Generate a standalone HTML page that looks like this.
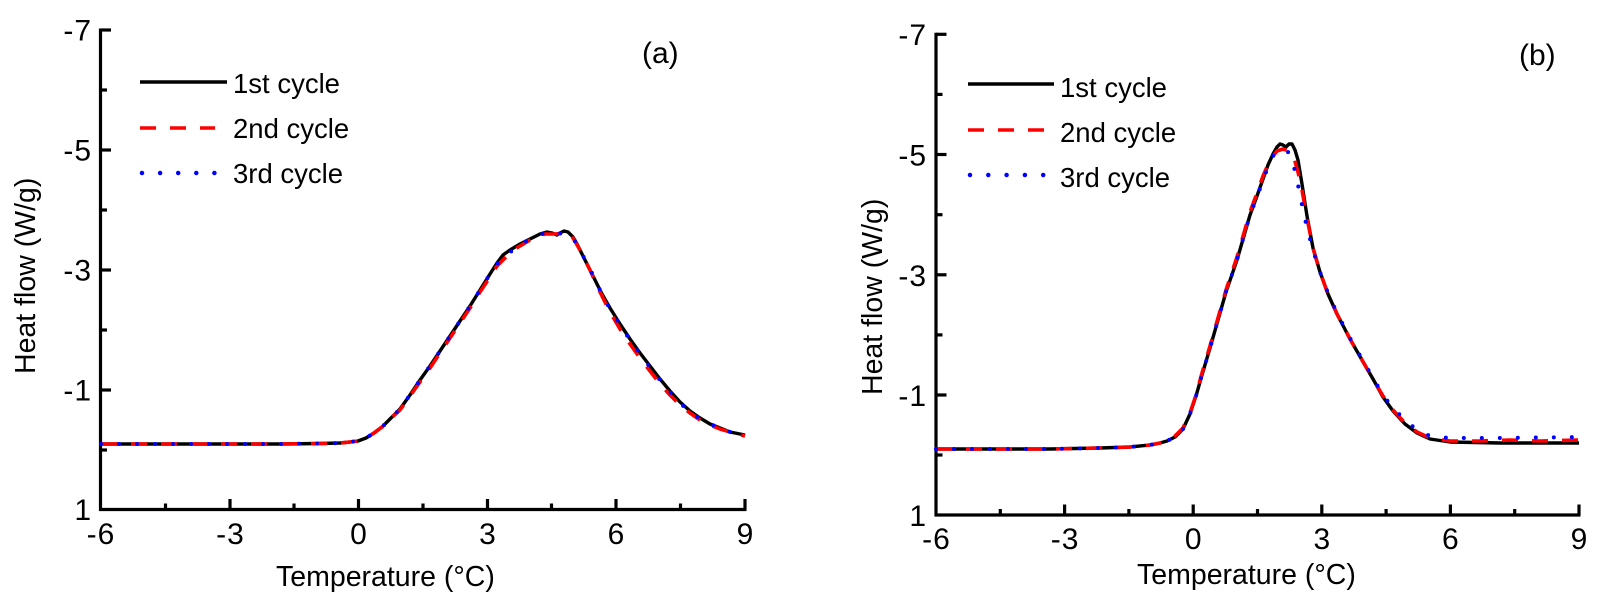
<!DOCTYPE html>
<html>
<head>
<meta charset="utf-8">
<style>
html,body{margin:0;padding:0;background:#fff;}
svg{display:block;}
text{font-family:"Liberation Sans",Arial,sans-serif;fill:#000;}
</style>
</head>
<body>
<svg width="1605" height="603" viewBox="0 0 1605 603" xmlns="http://www.w3.org/2000/svg">
<rect width="1605" height="603" fill="#fff"/>

<!-- ================= LEFT PANEL (a) ================= -->
<g fill="none" stroke="#000" stroke-width="3.2">
  <line x1="100.5" y1="28.5" x2="100.5" y2="511"/>
  <line x1="99" y1="509.5" x2="746.5" y2="509.5"/>
  <line x1="100.5" y1="30" x2="111" y2="30"/>
  <line x1="100.5" y1="150" x2="111" y2="150"/>
  <line x1="100.5" y1="270" x2="111" y2="270"/>
  <line x1="100.5" y1="390" x2="111" y2="390"/>
  <line x1="100.5" y1="90" x2="107" y2="90"/>
  <line x1="100.5" y1="210" x2="107" y2="210"/>
  <line x1="100.5" y1="330" x2="107" y2="330"/>
  <line x1="100.5" y1="450" x2="107" y2="450"/>
  <line x1="230" y1="509.5" x2="230" y2="499"/>
  <line x1="358.5" y1="509.5" x2="358.5" y2="499"/>
  <line x1="487.5" y1="509.5" x2="487.5" y2="499"/>
  <line x1="616" y1="509.5" x2="616" y2="499"/>
  <line x1="745" y1="509.5" x2="745" y2="499"/>
  <line x1="165.5" y1="509.5" x2="165.5" y2="503.5"/>
  <line x1="294" y1="509.5" x2="294" y2="503.5"/>
  <line x1="423" y1="509.5" x2="423" y2="503.5"/>
  <line x1="551.5" y1="509.5" x2="551.5" y2="503.5"/>
  <line x1="680.5" y1="509.5" x2="680.5" y2="503.5"/>
</g>

<g font-size="30" text-anchor="end">
  <text x="91" y="40.5">-<tspan dx="1">7</tspan></text>
  <text x="91" y="160.5">-<tspan dx="1">5</tspan></text>
  <text x="91" y="280.5">-<tspan dx="1">3</tspan></text>
  <text x="91" y="400.5">-<tspan dx="1">1</tspan></text>
  <text x="91" y="520">1</text>
</g>
<g font-size="30" text-anchor="middle">
  <text x="100.5" y="544">-<tspan dx="1">6</tspan></text>
  <text x="230" y="544">-<tspan dx="1">3</tspan></text>
  <text x="358.5" y="544">0</text>
  <text x="487.5" y="544">3</text>
  <text x="616" y="544">6</text>
  <text x="745" y="544">9</text>
</g>

<text font-size="28.5" x="276" y="586">Temperature (°C)</text>
<text font-size="28.5" transform="translate(35,374) rotate(-90)">Heat flow (W/g)</text>
<text font-size="30" x="642" y="63">(a)</text>

<line x1="140" y1="82" x2="227" y2="82" stroke="#000" stroke-width="3.4"/>
<line x1="140" y1="128" x2="215" y2="128" stroke="#ff0000" stroke-width="3.6" stroke-dasharray="16 14"/>
<line x1="142" y1="173" x2="215" y2="173" stroke="#0000ff" stroke-width="4.5" stroke-linecap="round" stroke-dasharray="0 18.1"/>
<g font-size="27.5">
<text x="233" y="93">1st cycle</text>
<text x="233" y="138">2nd cycle</text>
<text x="233" y="183">3rd cycle</text>
</g>

<g fill="none" stroke-linejoin="round">
<path stroke="#000" stroke-width="3.4" d="M101,444 L200,444 L280,444 L320,443.5 L340,443 L350,442 L358,441 L366,438 L374,433 L382,427 L390,419 L400,409 L410,395 L420,380 L430,366 L440,351 L450,336 L460,321 L470,306 L480,290 L490,274 L497,263 L503,255 L510,250 L520,244 L530,239 L540,234 L547,232 L552,233 L557,235 L560,233 L564,231 L568,232 L573,237 L577,244 L582,254 L588,266 L595,280 L602,294 L610,308 L620,324 L630,339 L640,353 L650,366 L660,379 L670,391 L680,402 L690,411 L700,418 L710,424 L720,428 L730,432 L745,435"/>
<path stroke="#ff0000" stroke-width="3.6" stroke-dasharray="16 14" d="M101,444 L200,444 L280,444 L320,443.5 L340,443 L350,442 L358,441 L366,438 L374,433 L382,427 L390,419 L400,410 L410,396 L420,382 L430,368 L440,353 L450,338 L460,323 L470,308 L480,292 L490,277 L497,266 L505,258 L515,249 L530,240 L545,234 L555,234 L565,233 L573,238 L580,250 L590,270 L600,292 L610,312 L620,329 L630,344 L640,358 L650,371 L660,384 L670,395 L680,405 L690,413 L700,420 L710,425 L720,429 L730,432 L745,436"/>
<path stroke="#0000ff" stroke-width="4" stroke-linecap="round" stroke-dasharray="0 18" d="M101,444 L200,444 L280,444 L320,443.5 L340,443 L350,442 L358,441 L366,438 L374,433 L382,427 L390,419 L400,409 L410,395 L420,380 L430,366 L440,351 L450,336 L460,321 L470,306 L480,290 L490,274 L497,264 L505,257 L515,248 L530,239 L545,233 L555,234 L565,233 L573,238 L580,250 L590,269 L600,290 L610,309 L620,325 L630,340 L640,354 L650,367 L660,380 L670,392 L680,403 L690,412 L700,419 L710,424 L720,428 L730,432 L745,435"/>
</g>

<!-- ================= RIGHT PANEL (b) ================= -->
<g fill="none" stroke="#000" stroke-width="3.2">
  <line x1="936" y1="32.8" x2="936" y2="516.5"/>
  <line x1="934.5" y1="515" x2="1580.5" y2="515"/>
  <line x1="936" y1="34.3" x2="946.5" y2="34.3"/>
  <line x1="936" y1="154.5" x2="946.5" y2="154.5"/>
  <line x1="936" y1="274.8" x2="946.5" y2="274.8"/>
  <line x1="936" y1="395" x2="946.5" y2="395"/>
  <line x1="936" y1="94.4" x2="942.5" y2="94.4"/>
  <line x1="936" y1="214.7" x2="942.5" y2="214.7"/>
  <line x1="936" y1="334.9" x2="942.5" y2="334.9"/>
  <line x1="936" y1="455" x2="942.5" y2="455"/>
  <line x1="1064.6" y1="515" x2="1064.6" y2="504.5"/>
  <line x1="1193.2" y1="515" x2="1193.2" y2="504.5"/>
  <line x1="1321.8" y1="515" x2="1321.8" y2="504.5"/>
  <line x1="1450.4" y1="515" x2="1450.4" y2="504.5"/>
  <line x1="1579" y1="515" x2="1579" y2="504.5"/>
  <line x1="1000.3" y1="515" x2="1000.3" y2="509"/>
  <line x1="1128.9" y1="515" x2="1128.9" y2="509"/>
  <line x1="1257.5" y1="515" x2="1257.5" y2="509"/>
  <line x1="1386.1" y1="515" x2="1386.1" y2="509"/>
  <line x1="1514.7" y1="515" x2="1514.7" y2="509"/>
</g>

<g font-size="30" text-anchor="end">
  <text x="926" y="45">-<tspan dx="1">7</tspan></text>
  <text x="926" y="165.5">-<tspan dx="1">5</tspan></text>
  <text x="926" y="285.8">-<tspan dx="1">3</tspan></text>
  <text x="926" y="406">-<tspan dx="1">1</tspan></text>
  <text x="926" y="526">1</text>
</g>
<g font-size="30" text-anchor="middle">
  <text x="936" y="549">-<tspan dx="1">6</tspan></text>
  <text x="1064.6" y="549">-<tspan dx="1">3</tspan></text>
  <text x="1193.2" y="549">0</text>
  <text x="1321.8" y="549">3</text>
  <text x="1450.4" y="549">6</text>
  <text x="1579" y="549">9</text>
</g>

<text font-size="28.5" x="1137" y="584">Temperature (°C)</text>
<text font-size="28.5" transform="translate(882,395) rotate(-90)">Heat flow (W/g)</text>
<text font-size="30" x="1519" y="65">(b)</text>

<line x1="968" y1="84" x2="1054" y2="84" stroke="#000" stroke-width="3.4"/>
<line x1="968" y1="130" x2="1044" y2="130" stroke="#ff0000" stroke-width="3.6" stroke-dasharray="16 14"/>
<line x1="970" y1="175" x2="1044" y2="175" stroke="#0000ff" stroke-width="4.5" stroke-linecap="round" stroke-dasharray="0 18.3"/>
<g font-size="27.5">
<text x="1060" y="97">1st cycle</text>
<text x="1060" y="142">2nd cycle</text>
<text x="1060" y="187">3rd cycle</text>
</g>

<g fill="none" stroke-linejoin="round">
<path stroke="#000" stroke-width="3.4" d="M936,449 L1050,449 L1100,448 L1130,447 L1150,445 L1160,443 L1167,441 L1175,437 L1183,429 L1190,414 L1196,396 L1202,375 L1210,348 L1218,320 L1226,292 L1237,260 L1250,215 L1257,196 L1263,179 L1268,165 L1273,154 L1277,147 L1280,144 L1283,145 L1286,147 L1289,144 L1292,144 L1295,150 L1298,160 L1302,184 L1307,216 L1313,248 L1320,272 L1328,294 L1337,314 L1350,339 L1362,360 L1373,379 L1383,397 L1393,411 L1405,424 L1417,433 L1430,439 L1450,442 L1500,443 L1579,443"/>
<path stroke="#ff0000" stroke-width="3.6" stroke-dasharray="16 14" d="M936,449 L1050,449 L1100,448 L1130,447 L1150,445 L1160,443 L1167,441 L1175,436 L1183,428 L1190,413 L1196,395 L1202,373 L1210,346 L1218,318 L1226,290 L1237,257 L1250,212 L1257,193 L1263,176 L1270,160 L1277,151 L1283,149 L1289,151 L1294,158 L1298,172 L1302,190 L1307,218 L1313,248 L1320,272 L1328,294 L1337,314 L1350,339 L1362,360 L1373,379 L1383,396 L1393,410 L1405,423 L1417,432 L1430,438 L1450,441 L1480,441 L1510,440 L1540,441 L1579,440"/>
<path stroke="#0000ff" stroke-width="4" stroke-linecap="round" stroke-dasharray="0 18" d="M936,449 L1050,449 L1100,448 L1130,447 L1150,445 L1160,443 L1167,441 L1175,437 L1183,429 L1190,414 L1196,396 L1202,375 L1210,348 L1218,320 L1226,292 L1237,260 L1250,215 L1257,197 L1263,180 L1268,167 L1273,156 L1278,150 L1283,150 L1288,152 L1293,163 L1297,180 L1302,205 L1307,228 L1313,250 L1320,272 L1328,293 L1337,313 L1350,338 L1362,359 L1373,378 L1383,395 L1393,408 L1405,420 L1417,430 L1430,436 L1450,438 L1500,438 L1579,437"/>
</g>
</svg>
</body>
</html>
